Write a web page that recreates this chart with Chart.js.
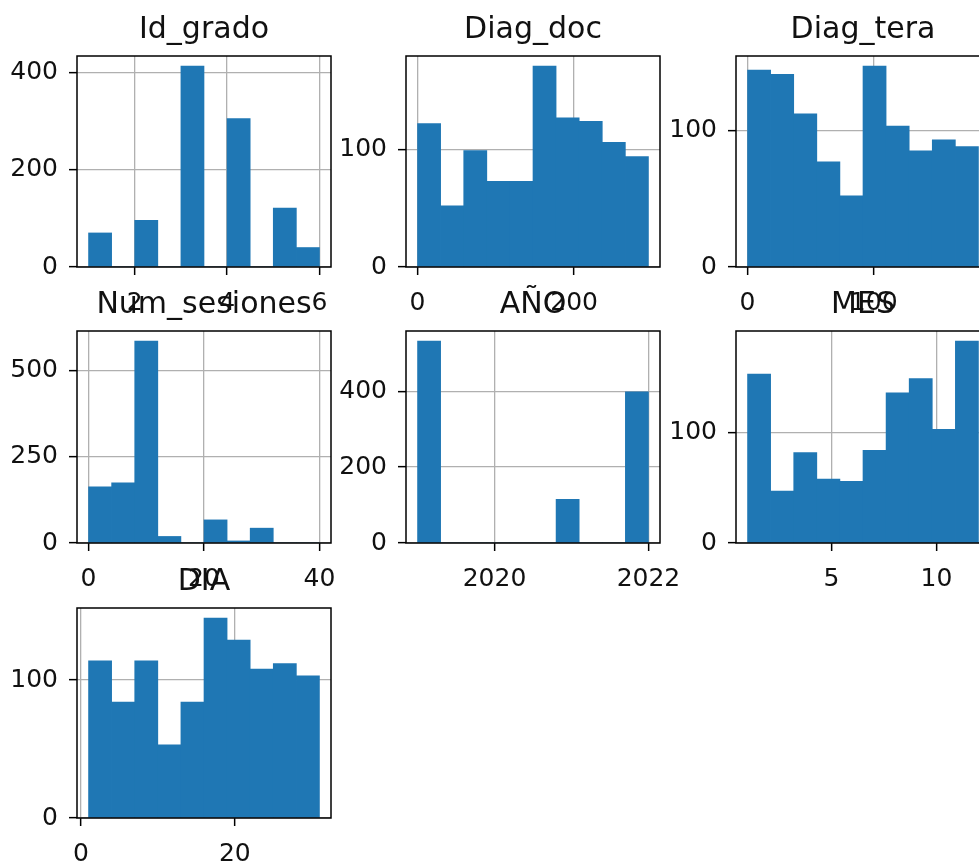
<!DOCTYPE html>
<html><head><meta charset="utf-8">
<script src="https://cdn.jsdelivr.net/npm/chart.js@4.4.0/dist/chart.umd.min.js"></script>
<style>
html,body{margin:0;padding:0;background:#fff;width:979px;height:867px;overflow:hidden;position:relative;}
canvas{position:absolute;}
</style></head><body>
<script>
// ---- data ----
const idGradoTitle = "Id_grado";
const idGradoRange = [1, 6];
const idGradoCounts = [70, 0, 96, 0, 413, 0, 305, 0, 121, 40];
const idGradoXTicks = [2, 4, 6];
const idGradoYTicks = [0, 200, 400];

const diagDocTitle = "Diag_doc";
const diagDocRange = [0, 295];
const diagDocCounts = [122, 52, 99, 73, 73, 171, 127, 124, 106, 94];
const diagDocXTicks = [0, 200];
const diagDocYTicks = [0, 100];

const diagTeraTitle = "Diag_tera";
const diagTeraRange = [0, 183];
const diagTeraCounts = [144, 141, 112, 77, 52, 147, 103, 85, 93, 88];
const diagTeraXTicks = [0, 100];
const diagTeraYTicks = [0, 100];

const numSesionesTitle = "Num_sesiones";
const numSesionesRange = [0, 40];
const numSesionesCounts = [163, 174, 585, 19, 0, 67, 6, 43, 0, 0];
const numSesionesXTicks = [0, 20, 40];
const numSesionesYTicks = [0, 250, 500];

const anoTitle = "AÑO";
const anoRange = [2019, 2022];
const anoCounts = [532, 0, 0, 0, 0, 0, 115, 0, 0, 398];
const anoXTicks = [2020, 2022];
const anoYTicks = [0, 200, 400];

const mesTitle = "MES";
const mesRange = [1, 12];
const mesCounts = [153, 47, 82, 58, 56, 84, 136, 149, 103, 183];
const mesXTicks = [5, 10];
const mesYTicks = [0, 100];

const diaTitle = "DIA";
const diaRange = [1, 31];
const diaCounts = [114, 84, 114, 53, 84, 145, 129, 108, 112, 103];
const diaXTicks = [0, 20];
const diaYTicks = [0, 100];

// ---- layout ----
const COL_LEFT = [77, 406, 736];
const ROW_TOP = [56, 331, 608];
const ROW_H = [211, 212, 210];
const BOX_W = 254;
const PADX = 70;
const TITLE_H = 48;
const HX = 70;
const FONT = "'DejaVu Sans', sans-serif";
const TEXT = '#111';
const TICK_SIZE = 25;
const TITLE_SIZE = 30;

const frame = {
  id: 'frame',
  afterDraw(chart) {
    const a = chart.chartArea, ctx = chart.ctx;
    ctx.save();
    ctx.strokeStyle = '#000';
    ctx.lineWidth = 1.5;
    ctx.strokeRect(a.left, a.top, a.right - a.left, a.bottom - a.top);
    // subplot title, centred over the axes box
    const t = chart.options.plugins.boxTitle.text;
    ctx.fillStyle = TEXT;
    ctx.font = TITLE_SIZE + 'px ' + FONT;
    ctx.textAlign = 'center';
    ctx.textBaseline = 'alphabetic';
    ctx.fillText(t, (a.left + a.right) / 2, a.top - 18);
    ctx.restore();
  }
};

function hist(title, range, counts, xTicks, yTicks, row, col) {
  const n = counts.length;
  const w = (range[1] - range[0]) / n;
  const pts = counts.map((c, i) => ({ x: range[0] + (i + 0.5) * w, y: c }));
  const span = range[1] - range[0];
  const xmin = range[0] - 0.05 * span, xmax = range[1] + 0.05 * span;
  const ymax = 1.05 * Math.max(...counts);

  const cv = document.createElement('canvas');
  const cw = PADX + BOX_W + PADX, ch = TITLE_H + ROW_H[row] + HX;
  cv.width = cw; cv.height = ch;
  cv.style.width = cw + 'px'; cv.style.height = ch + 'px';
  cv.style.left = (COL_LEFT[col] - PADX) + 'px';
  cv.style.top = (ROW_TOP[row] - TITLE_H) + 'px';
  document.body.appendChild(cv);

  const gridCommon = { color: '#b0b0b0', lineWidth: 1.3, tickColor: '#000', tickWidth: 1.5, tickLength: 8, drawTicks: true, offset: false };
  new Chart(cv, {
    type: 'bar',
    data: { datasets: [{ data: pts, backgroundColor: '#1f77b4', borderWidth: 0, barPercentage: 1, categoryPercentage: 1 }] },
    options: {
      responsive: false, animation: false, devicePixelRatio: 1,
      layout: { padding: { left: 0, right: PADX, top: TITLE_H, bottom: 0 } },
      plugins: {
        legend: { display: false }, tooltip: { enabled: false }, title: { display: false },
        boxTitle: { text: title }
      },
      scales: {
        x: {
          type: 'linear', min: xmin, max: xmax, offset: false, z: 1,
          afterBuildTicks: s => { s.ticks = xTicks.map(v => ({ value: v })); },
          afterFit: s => { s.height = HX; },
          grid: gridCommon, border: { display: false },
          ticks: { color: TEXT, font: { family: FONT, size: TICK_SIZE }, padding: 13, maxRotation: 0, autoSkip: false, callback: v => String(v) }
        },
        y: {
          type: 'linear', min: 0, max: ymax, z: 1,
          afterBuildTicks: s => { s.ticks = yTicks.map(v => ({ value: v })); },
          afterFit: s => { s.width = PADX; },
          grid: gridCommon, border: { display: false },
          ticks: { color: TEXT, font: { family: FONT, size: TICK_SIZE }, padding: 11, autoSkip: false, callback: v => String(v) }
        }
      }
    },
    plugins: [frame]
  });
}

hist(idGradoTitle, idGradoRange, idGradoCounts, idGradoXTicks, idGradoYTicks, 0, 0);
hist(diagDocTitle, diagDocRange, diagDocCounts, diagDocXTicks, diagDocYTicks, 0, 1);
hist(diagTeraTitle, diagTeraRange, diagTeraCounts, diagTeraXTicks, diagTeraYTicks, 0, 2);
hist(numSesionesTitle, numSesionesRange, numSesionesCounts, numSesionesXTicks, numSesionesYTicks, 1, 0);
hist(anoTitle, anoRange, anoCounts, anoXTicks, anoYTicks, 1, 1);
hist(mesTitle, mesRange, mesCounts, mesXTicks, mesYTicks, 1, 2);
hist(diaTitle, diaRange, diaCounts, diaXTicks, diaYTicks, 2, 0);
</script>
</body></html>
